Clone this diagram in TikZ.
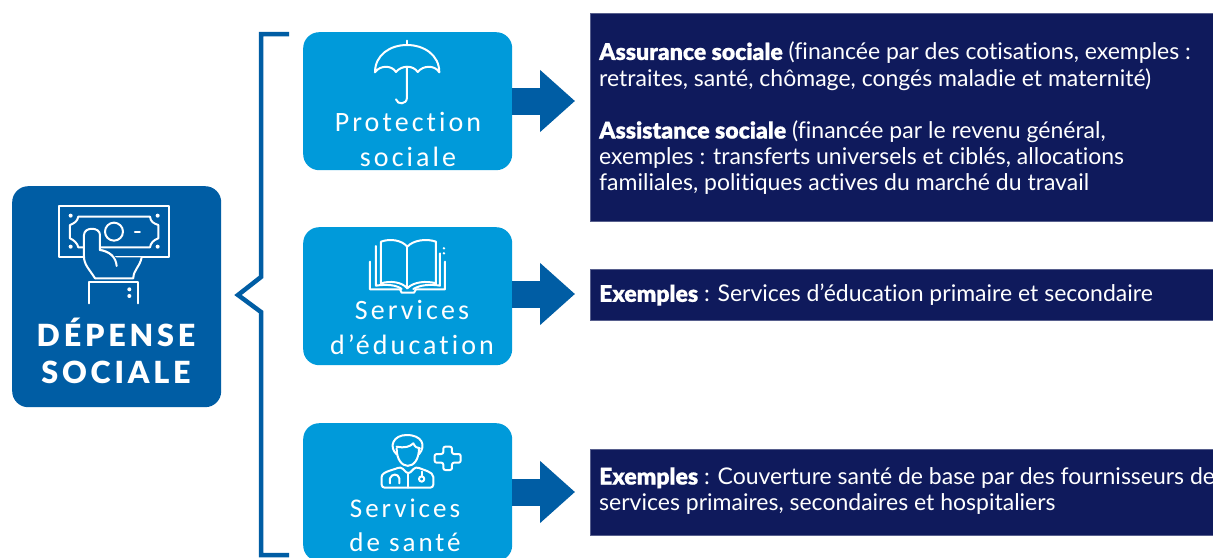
\documentclass[tikz,border=0pt]{standalone}
\usepackage{fontspec}
\setmainfont{Lato}[BoldFont={Lato Black},BoldFeatures={FakeBold=0.6},Ligatures=NoCommon]
\newfontfamily\boxfont{Carlito}[LetterSpace=11,Ligatures=NoCommon]
\newfontfamily\headfont{Lato Black}[LetterSpace=12.5,Ligatures=NoCommon]
\usetikzlibrary{arrows.meta}
\definecolor{darkblue}{HTML}{005DA4}
\definecolor{lightblue}{HTML}{009ADA}
\definecolor{navy}{HTML}{0F1A5C}
\tikzset{
  box/.style={rounded corners=16pt,fill=lightblue,anchor=north west,minimum width=209pt,minimum height=138pt,inner sep=0pt},
  panel/.style={fill=navy,draw=navy!70!white,line width=1pt,anchor=north west,minimum width=626pt,inner sep=0pt},
  paneltext/.style={anchor=west,text=white,align=left,font=\fontsize{23}{26.2}\selectfont,inner sep=0pt},
  boxlabel/.style={text=white,font=\boxfont\fontsize{28}{35}\selectfont,align=center,inner sep=0pt},
  headlabel/.style={text=white,font=\headfont\fontsize{30.5}{37}\selectfont,align=center,inner sep=0pt},
  bigarrow/.style={darkblue,line width=27pt,-{Triangle[length=35pt,width=60pt,inset=0pt,sep=0pt]}},
  bracket/.style={draw=darkblue,line width=4.5pt,miter limit=10},
  icon/.style={draw=white,line width=2pt,line cap=round,line join=round},
  zoomed/.style={x=0.3333pt,y=-0.3333pt},
}
\begin{document}
\begin{tikzpicture}[x=1pt,y=-1pt]
\useasboundingbox (0,0) rectangle (1213,557);
\clip (0,0) rectangle (1213,557);
\fill[white] (0,0) rectangle (1213,557);
% main box
\node[box,fill=darkblue,minimum width=209pt,minimum height=221pt] (main) at (12,186) {};
\node[headlabel] (mainlabel) at (116,351) {DÉPENSE\\SOCIALE};
% bracket
\coordinate (bt) at (289,34);
\coordinate (bb) at (289,555);
\draw[bracket] (bt) -- (261,34) -- (261,277) -- (238,295) -- (261,312) -- (261,555) -- (bb);
% panels
\node[panel,minimum height=208pt] (pa) at (589.5,12.5) {};
\node[panel,minimum height=51pt] (pb) at (589.5,268.5) {};
\node[panel,minimum height=86pt] (pc) at (589.5,448.5) {};
\node[paneltext] (ta) at (599,118.5) {\textbf{Assurance sociale} (financée par des cotisations, exemples :\\retraites, santé, chômage, congés maladie et maternité)\\[26.2pt]\textbf{Assistance sociale} (financée par le revenu général,\\exemples : transferts universels et ciblés, allocations\\familiales, politiques actives du marché du travail};
\node[paneltext] (tb) at (599,295) {\textbf{Exemples} : Services d’éducation primaire et secondaire};
\node[paneltext] (tc) at (599,491) {\textbf{Exemples} : Couverture santé de base par des fournisseurs de\\services primaires, secondaires et hospitaliers};
% arrows
\coordinate (a1) at (575,101);
\coordinate (a2) at (575,294);
\coordinate (a3) at (575,492);
\node[box] (b1) at (303,32) {};
\node[box] (b2) at (303,227) {};
\node[box] (b3) at (303,423) {};
\draw[bigarrow] (b1.east |- a1) -- (a1);
\draw[bigarrow] (b2.east |- a2) -- (a2);
\draw[bigarrow] (b3.east |- a3) -- (a3);
\node[boxlabel] (l1) at (408,139) {Protection\\sociale};
\node[boxlabel] (l2) at (412,327) {Services\\d’éducation};
\node[boxlabel,font=\boxfont\fontsize{27}{34}\selectfont] (l3) at (405,525.5) {Services\\de santé};
% banknote icon
\begin{scope}[shift={(0,170)},zoomed]
 \draw[icon] (177,108) rectangle (507,260);
 \draw[icon] (235,140) -- (450,140) .. controls (452,155) and (460,160) .. (475,165) -- (475,205) .. controls (460,210) and (452,220) .. (450,232) -- (235,232) .. controls (232,220) and (222,210) .. (210,205) -- (210,165) .. controls (222,160) and (232,155) .. (235,140) -- cycle;
 \draw[icon] (342,185) circle[radius=27];
 \draw[icon] (405,185) -- (420,185);
 \foreach \p in {(212,137),(473,137),(212,230),(473,230)} \fill[white] \p circle[radius=6];
 \draw[icon,fill=darkblue] (285,325) .. controls (270,300) and (252,285) .. (252,260) -- (252,195) .. controls (252,170) and (300,170) .. (300,195) -- (300,240) .. controls (330,245) and (348,262) .. (350,288);
 \fill[darkblue] (301,241) .. controls (330,246) and (347,262) .. (349,262) -- (425,262) -- (400,323) -- (288,323) -- cycle;
 \draw[icon] (300,240) .. controls (330,245) and (348,262) .. (350,288);
 \draw[icon] (425,262) .. controls (420,290) and (400,300) .. (400,325) -- (285,325);
 \draw[icon] (267,400) -- (267,335) -- (413,335) -- (413,400);
 \fill[white] (388,358) circle[radius=6] (388,378) circle[radius=6];
\end{scope}
% umbrella icon
\begin{scope}[shift={(290,20)},zoomed]
 \draw[icon] (255,157) .. controls (255,105) and (300,75) .. (351,75) .. controls (402,75) and (448,105) .. (448,157) .. controls (435,135) and (400,135) .. (383,156) .. controls (370,135) and (335,135) .. (318,156) .. controls (305,135) and (270,135) .. (255,157) -- cycle;
 \draw[icon] (351,62) -- (351,75);
 \draw[icon] (351,140) -- (351,232) .. controls (351,255) and (322,255) .. (318,238);
\end{scope}
% book icon
\begin{scope}[shift={(290,220)},zoomed]
 \draw[icon] (273,65) .. controls (300,55) and (335,60) .. (352,80) .. controls (370,60) and (410,55) .. (438,65) -- (438,190) .. controls (410,182) and (370,185) .. (352,205) .. controls (335,185) and (300,182) .. (273,190) -- cycle;
 \draw[icon] (352,80) -- (352,205);
 \draw[icon] (258,78) -- (258,197) .. controls (290,192) and (320,195) .. (335,207);
 \draw[icon] (450,100) -- (450,197) .. controls (420,192) and (390,195) .. (370,207);
 \draw[icon] (240,125) -- (240,208) -- (330,208) -- (335,218) -- (372,218) -- (378,208) -- (465,208) -- (465,125);
 \fill[white] (462,85) circle[radius=4] (462,100) circle[radius=4];
\end{scope}
% doctor icon
\begin{scope}[shift={(250,415)},zoomed]
 \draw[icon] (440,118) .. controls (415,95) and (430,60) .. (470,60) .. controls (515,60) and (530,90) .. (507,118);
 \draw[icon] (440,95) .. controls (465,100) and (480,95) .. (490,85) .. controls (495,95) and (500,100) .. (510,100);
 \draw[icon] (440,100) .. controls (440,170) and (507,170) .. (507,100);
 \draw[icon,rounded corners=3pt] (395,218) -- (395,195) .. controls (395,170) and (430,165) .. (452,155) -- (475,178) -- (498,155) .. controls (520,165) and (550,170) .. (550,195) -- (550,218) -- cycle;
 \draw[icon] (475,178) -- (475,218);
 \draw[icon] (420,205) -- (420,190) .. controls (425,175) and (445,175) .. (448,190) -- (448,205);
 \draw[icon] (515,170) -- (515,185);
 \draw[icon] (515,192) circle[radius=8];
 \draw[icon,rounded corners=2pt] (580,95) -- (606,95) -- (606,117) -- (632,117) -- (632,143) -- (606,143) -- (606,165) -- (580,165) -- (580,143) -- (554,143) -- (554,117) -- (580,117) -- cycle;
\end{scope}
\end{tikzpicture}
\end{document}
